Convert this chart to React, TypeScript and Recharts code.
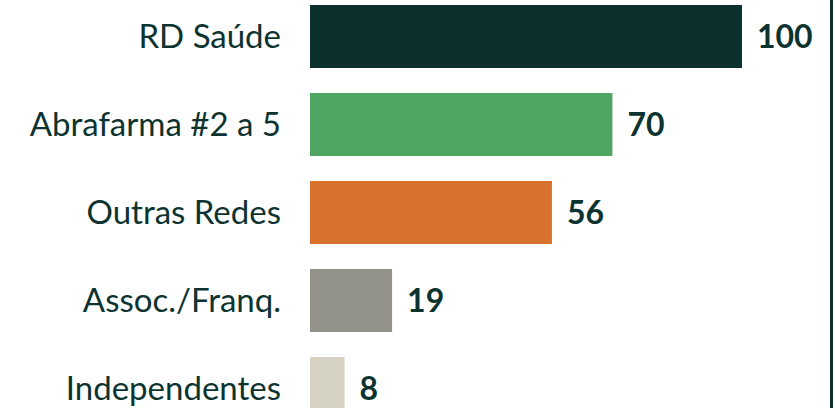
import { BarChart, Bar, XAxis, YAxis, Cell, LabelList } from "recharts";

const categories = ["RD Saúde", "Abrafarma #2 a 5", "Outras Redes", "Assoc./Franq.", "Independentes"];
const values = [100, 70, 56, 19, 8];
const colors = ["#0b302d", "#4ea562", "#d8712b", "#93928a", "#d5d2c4"];

const data = categories.map((name, i) => ({ name, value: values[i] }));

const textColor = "#0d3330";
const font = "Lato, 'Open Sans', sans-serif";

export default function App() {
  return (
    <div
      style={{
        position: "absolute",
        top: 0,
        left: 0,
        width: 835,
        height: 408,
        overflow: "hidden",
        background: "#ffffff",
        fontFamily: font,
      }}
    >
      <div style={{ position: "absolute", top: -8.5, left: 0 }}>
        <BarChart
          width={835}
          height={440}
          data={data}
          layout="vertical"
          margin={{ top: 0, right: 93, bottom: 0, left: 0 }}
          barSize={63}
        >
          <XAxis type="number" domain={[0, 100]} hide />
          <YAxis
            type="category"
            dataKey="name"
            width={310}
            axisLine={false}
            tickLine={false}
            tickSize={0}
            tickMargin={29}
            tick={{ fill: textColor, fontSize: 33, fontFamily: font }}
          />
          <Bar dataKey="value" isAnimationActive={false}>
            {data.map((d, i) => (
              <Cell key={d.name} fill={colors[i]} />
            ))}
            <LabelList
              dataKey="value"
              position="right"
              offset={15}
              fill={textColor}
              fontSize={32}
              fontWeight={700}
              fontFamily={font}
            />
          </Bar>
        </BarChart>
      </div>
      <div
        style={{
          position: "absolute",
          top: 0,
          left: 830,
          width: 3,
          height: 408,
          background: "#0b302d",
        }}
      />
    </div>
  );
}
